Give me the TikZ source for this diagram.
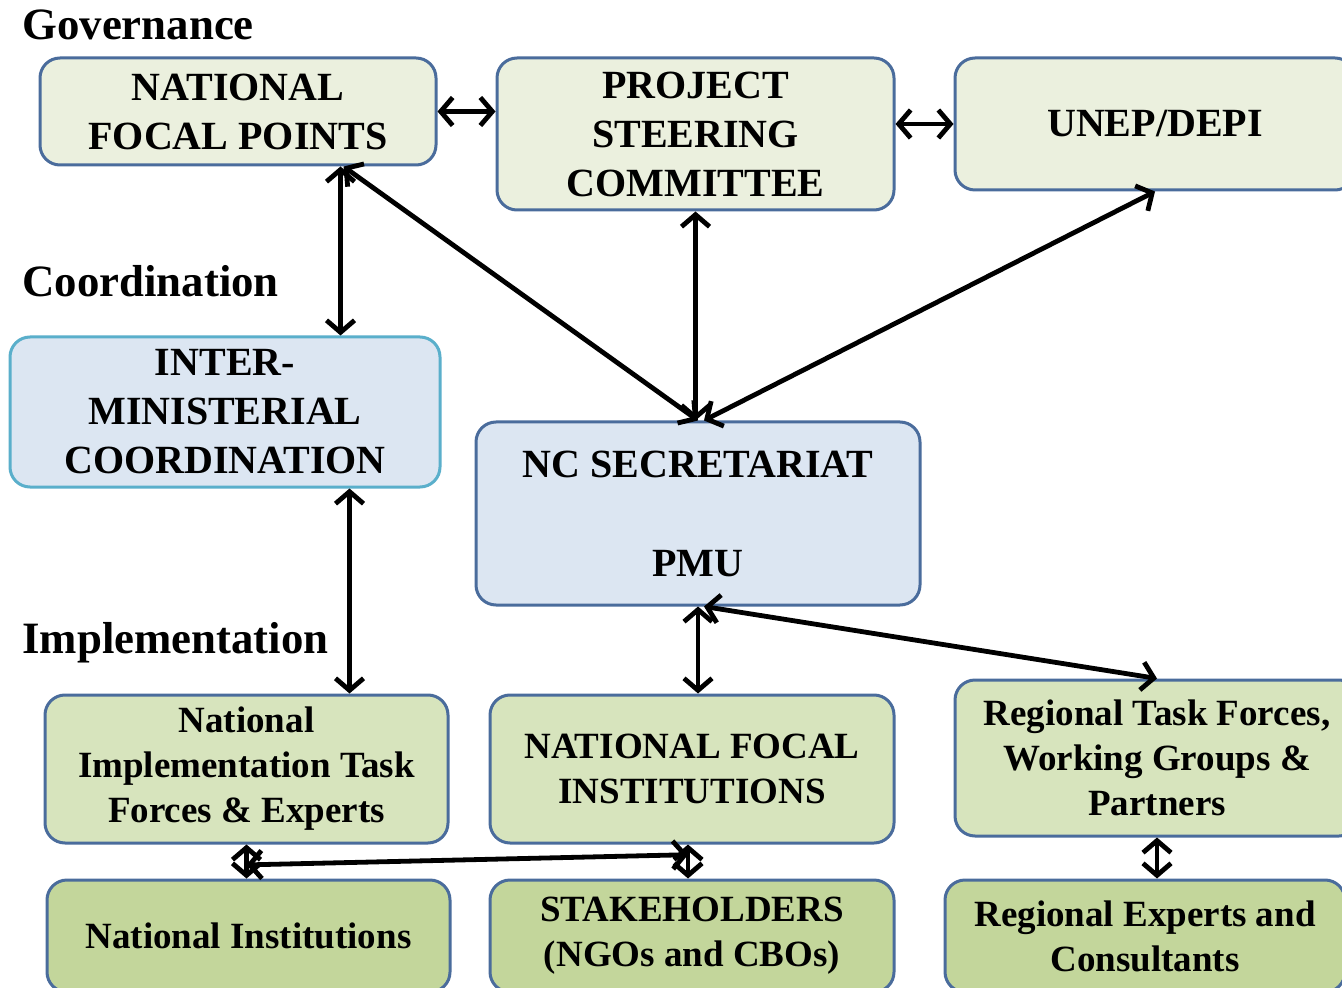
\documentclass[tikz,border=0pt]{standalone}
\usepackage{fontspec}
\setmainfont{Liberation Serif}
\usetikzlibrary{arrows.meta,calc}
\definecolor{bd}{HTML}{4A6C9C}
\definecolor{bdteal}{HTML}{5AAFCB}
\definecolor{fpale}{HTML}{EBF0DE}
\definecolor{fgreen}{HTML}{D7E4BD}
\definecolor{fdark}{HTML}{C3D69B}
\definecolor{fblue}{HTML}{DCE6F2}
\begin{document}
\begin{tikzpicture}[x=0.5pt,y=-0.5pt,
  box/.style={draw=bd, line width=1.5pt, rounded corners=10pt, align=center, inner sep=0pt},
  big/.style={font=\fontsize{20}{24.5}\selectfont\bfseries},
  small/.style={font=\fontsize{18.5}{22.5}\selectfont\bfseries},
  head/.style={anchor=base west, inner sep=0pt, font=\fontsize{22.4}{27}\selectfont\bfseries},
  conn/.style={line width=2.4pt, {Straight Barb[length=6pt,width=14pt]}-{Straight Barb[length=6pt,width=14pt]}}
]
\useasboundingbox (0,0) rectangle (1342,988);
\clip (0,0) rectangle (1342,988);
\fill[white] (0,0) rectangle (1342,988);

% headers
\node[head] (hgov) at (22,40) {Governance};
\node[head] (hcoord) at (22,297) {Coordination};
\node[head] (himpl) at (22,653) {Implementation};

% governance
\node[box, big, fill=fpale, minimum width=198pt, minimum height=53.5pt] (nfp) at (238,111.5) {NATIONAL\\FOCAL POINTS};
\node[box, big, fill=fpale, minimum width=198.5pt, minimum height=76pt] (psc) at (695.5,134) {PROJECT\\STEERING\\COMMITTEE};
\node[box, big, fill=fpale, minimum width=200pt, minimum height=66pt] (unep) at (1155,124) {UNEP/DEPI};

% coordination
\node[box, big, draw=bdteal, fill=fblue, minimum width=215pt, minimum height=75pt] (imc) at (225,412) {INTER-\\MINISTERIAL\\COORDINATION};
\node[box, big, fill=fblue, minimum width=222pt, minimum height=91.5pt] (nc) at (698,513.5) {NC SECRETARIAT\\[25pt]PMU};

% implementation
\node[box, small, fill=fgreen, minimum width=201.5pt, minimum height=74pt] (nitf) at (246.5,769) {National\\Implementation Task\\Forces \& Experts};
\node[box, small, fill=fgreen, minimum width=202pt, minimum height=74pt] (nfi) at (692,769) {NATIONAL FOCAL\\INSTITUTIONS};
\node[box, small, fill=fgreen, minimum width=202pt, minimum height=78pt] (rtf) at (1157,758) {Regional Task Forces,\\Working Groups \&\\Partners};

\node[box, small, fill=fdark, minimum width=201.5pt, minimum height=56pt] (ni) at (248.5,936) {National Institutions};
\node[box, small, fill=fdark, minimum width=202pt, minimum height=56pt] (stk) at (692,936) {STAKEHOLDERS\\(NGOs and CBOs)};
\node[box, small, fill=fdark, minimum width=200pt, minimum height=56pt] (rec) at (1145,936) {Regional Experts and\\Consultants};

% connectors
\draw[conn] (nfp.east) -- (nfp.east -| psc.west);
\draw[conn] (unep.west -| psc.east) -- (unep.west);
\draw[conn] ($(nfp.south west)+(302,0)$) -- ($(imc.north west)+(332,0)$);
\draw[conn] ($(nfp.south west)+(305,0)$) -- (nc.north);
\draw[conn] (psc.south) -- (psc.south |- nc.north);
\draw[conn] (unep.south) -- ($(nc.north)+(6,0)$);
\draw[conn] ($(imc.south west)+(341,0)$) -- ($(nitf.north west)+(306,0)$);
\draw[conn] (nc.south) -- (nc.south |- nfi.north);
\draw[conn] ($(nc.south)+(6,0)$) -- (rtf.north);
\coordinate (b1) at (nitf.south);
\coordinate (b2) at ($(nfi.south)+(-4,0)$);
\draw[conn] (b1) -- (b1 |- ni.north);
\draw[conn] (b2) -- (b2 |- stk.north);
\coordinate (j1) at ($(b1)!0.6!(b1 |- ni.north)$);
\coordinate (j2) at ($(b2)!0.3!(b2 |- stk.north)$);
\draw[conn] (j1) -- (j2);
\draw[conn] (rtf.south) -- (rtf.south |- rec.north);
\end{tikzpicture}
\end{document}
